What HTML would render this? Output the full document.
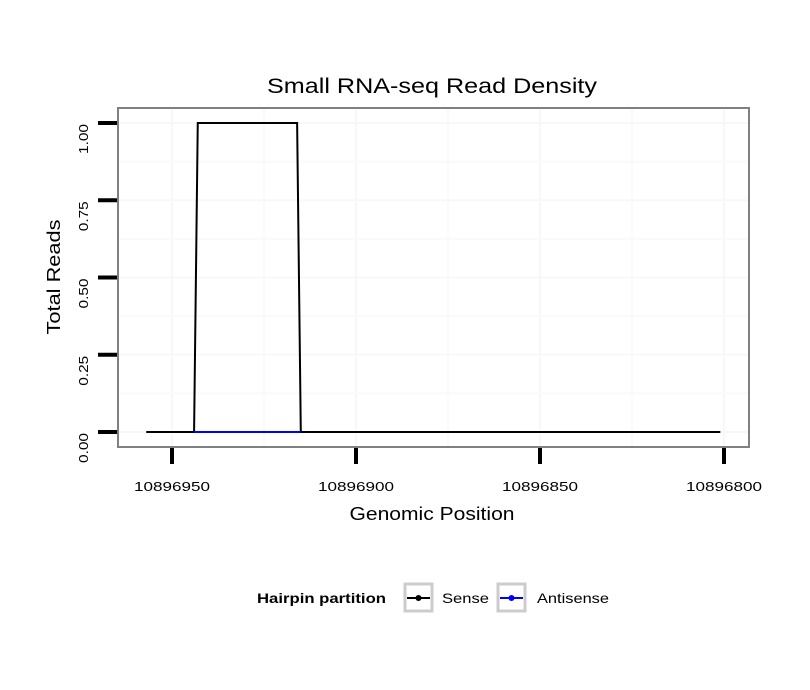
<!DOCTYPE html>
<html><head><meta charset="utf-8"><style>
body{margin:0;background:#fff}
svg{display:block;font-family:"Liberation Sans",sans-serif}
</style></head><body>
<svg width="810" height="690">
<rect width="810" height="690" fill="#fff"/>
<g id="grid"></g>
<g id="series"></g>
<rect x="118" y="108" width="631" height="339" fill="none" stroke="#808080" stroke-width="2"/>
<g id="axes"></g>
<text x="432" y="93" font-size="21" text-anchor="middle" textLength="330" lengthAdjust="spacingAndGlyphs">Small RNA-seq Read Density</text>
<text x="432" y="520" font-size="18" text-anchor="middle" textLength="165" lengthAdjust="spacingAndGlyphs">Genomic Position</text>
<text transform="translate(60,277) rotate(-90)" font-size="18" text-anchor="middle" textLength="115" lengthAdjust="spacingAndGlyphs">Total Reads</text>
<g>
<text x="386" y="603" font-size="14" font-weight="bold" text-anchor="end" textLength="129" lengthAdjust="spacingAndGlyphs">Hairpin partition</text>
<g>
<rect x="405" y="584" width="27" height="27" fill="#fff" stroke="#ccc" stroke-width="3"/>
<line x1="407" y1="598" x2="430" y2="598" stroke="#000" stroke-width="2"/><circle cx="418.5" cy="598" r="3" fill="#000"/>
<text x="442" y="603" font-size="14" textLength="47" lengthAdjust="spacingAndGlyphs">Sense</text></g>
<g>
<rect x="498" y="584" width="27" height="27" fill="#fff" stroke="#ccc" stroke-width="3"/>
<line x1="500" y1="598" x2="523" y2="598" stroke="#00f" stroke-width="2"/><circle cx="511.5" cy="598" r="3" fill="#00f"/>
<text x="537" y="603" font-size="14" textLength="72" lengthAdjust="spacingAndGlyphs">Antisense</text></g>
</g>
</svg>
<script>
const senseX=[10896957,10896944,10896943,10896916,10896915,10896801];
const senseY=[0,0,1,1,0,0];
const antiX=[10896944,10896915];
const antiY=[0,0];
const xTicks=[10896950,10896900,10896850,10896800];
const yTicks=[0,0.25,0.5,0.75,1];
const yTickLabels=["0.00","0.25","0.50","0.75","1.00"];
const NS="http://www.w3.org/2000/svg";
function xs(v){return 172+(10896950-v)*3.68;}
function ys(v){return 432-v*309;}
function mk(tag,attrs,parent){const e=document.createElementNS(NS,tag);for(const k in attrs)e.setAttribute(k,attrs[k]);document.getElementById(parent).appendChild(e);return e;}
for(let i=0;i<xTicks.length;i++){
 let g=mk('line',{x1:xs(xTicks[i]),x2:xs(xTicks[i]),y1:109,y2:446,stroke:'#f8f8f8','stroke-width':2},'grid');
 
 
 if(i<xTicks.length-1){const m=(xTicks[i]+xTicks[i+1])/2;
 let g2=mk('line',{x1:xs(m),x2:xs(m),y1:109,y2:446,stroke:'#fafafa','stroke-width':2},'grid');
 
 }
}
for(let i=0;i<yTicks.length;i++){
 let g=mk('line',{x1:119,x2:748,y1:ys(yTicks[i]),y2:ys(yTicks[i]),stroke:'#f8f8f8','stroke-width':2},'grid');
 
 
 if(i<yTicks.length-1){const m=(yTicks[i]+yTicks[i+1])/2;
 let g2=mk('line',{x1:119,x2:748,y1:ys(m),y2:ys(m),stroke:'#fafafa','stroke-width':2},'grid');
 
 }
}
let p=mk('polyline',{points:senseX.map((x,i)=>xs(x)+','+ys(senseY[i])).join(' '),fill:'none',stroke:'#000','stroke-width':2},'series');


let a=mk('polyline',{points:antiX.map((x,i)=>xs(x)+','+ys(antiY[i])).join(' '),fill:'none',stroke:'#00f','stroke-width':2},'series');


xTicks.forEach(v=>{
 let t=mk('line',{x1:xs(v),x2:xs(v),y1:448,y2:464,stroke:'#000','stroke-width':4},'axes');
 
 
 let l=mk('text',{x:xs(v),y:491,'font-size':13,'text-anchor':'middle',textLength:76,lengthAdjust:'spacingAndGlyphs'},'axes');
 l.textContent=v;
 
 
});
yTicks.forEach((v,i)=>{
 let t=mk('line',{x1:98,x2:117,y1:ys(v),y2:ys(v),stroke:'#000','stroke-width':4},'axes');
 
 
 let l=mk('text',{transform:'translate(88,'+(ys(v)+1)+') rotate(-90)','font-size':13,'text-anchor':'end',textLength:30,lengthAdjust:'spacingAndGlyphs'},'axes');
 l.textContent=yTickLabels[i];
 
 
});
</script>
</body></html>
